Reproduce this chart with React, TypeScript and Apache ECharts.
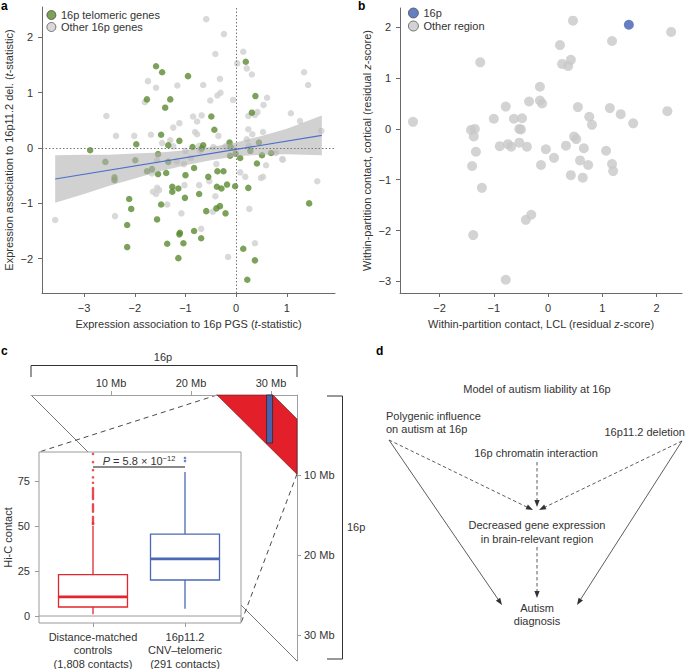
import React, { useEffect, useRef } from 'react';
import * as echarts from 'echarts';

const FONT = '"Liberation Sans", Arial, Helvetica, sans-serif';
const TXT = '#333333';
const AX = '#6a6a6a';
const FS = 11;

// ---------- Panel a ----------
const telomericGenes: number[][] = [
  [-2.88, -0.04], [-1.97, 0.07], [-1.76, 0.88], [-1.58, 1.48], [-1.46, 1.37], [-1.48, 0.24],
  [-1.40, 0.73], [-1.30, 0.88], [-1.34, 0.05], [-1.54, -0.11], [-1.12, 0.13], [0.19, 1.56],
  [-0.95, 1.30], [0.38, 0.94], [0.31, 0.64], [-0.49, 0.57], [-0.43, 0.33], [-0.86, 0.02],
  [-0.65, 0.05], [-0.68, -0.01], [-0.13, 0.10], [-0.11, 0.02], [0.45, 0.10], [0.28, -0.05],
  [-0.01, -0.10], [-0.12, -0.14], [0.08, -0.18], [0.51, -0.13], [0.69, -0.09], [-2.58, -0.25],
  [-2.40, -0.53], [-2.40, -0.58], [-1.99, -0.22], [-1.76, -0.42], [-1.66, -0.38], [-1.54, -0.47],
  [-1.38, -0.45], [-1.34, -0.25], [-1.26, -0.70], [-1.26, -0.79], [-1.14, -0.73], [-2.11, -0.92],
  [-2.07, -1.10], [-1.48, -1.02], [-1.56, -1.29], [-2.15, -1.39], [-2.15, -1.79], [-1.36, -1.73],
  [-1.12, -1.56], [-1.14, -1.99], [-1.00, -0.49], [-0.83, -0.36], [-0.55, -0.52], [-0.37, -0.42],
  [-0.25, -0.42], [-0.73, -0.83], [-1.01, -0.90], [-0.38, -0.70], [-0.29, -0.73], [-0.18, -0.66],
  [-0.02, -0.69], [0.24, -0.72], [0.41, -0.28], [1.44, -1.00], [-0.59, -1.14], [-0.39, -1.09],
  [-0.32, -1.05], [-0.21, -1.18], [-1.11, -1.53], [-1.04, -1.72], [-0.83, -1.50], [-0.69, -1.63],
  [0.14, -1.82], [0.37, -2.03], [0.22, -2.38],
];
const otherGenes: number[][] = [
  [-2.56, 0.58], [-2.37, 0.22], [-2.01, 0.22], [-1.80, 0.83], [-1.74, 1.21], [-1.68, 0.24],
  [-1.58, 1.09], [-1.16, 1.13], [-1.24, 0.37], [-1.12, 0.45], [-1.30, 0.14], [-1.46, 0.09],
  [-1.24, 0.03], [-0.59, 2.33], [-0.24, 2.06], [-0.41, 1.70], [0.14, 1.74], [0.02, 1.53],
  [0.21, 1.44], [0.31, 1.33], [1.34, 1.37], [1.42, 1.14], [-0.32, 1.25], [-0.65, 1.14],
  [-0.31, 1.00], [-0.37, 0.95], [-0.51, 0.86], [-0.06, 0.87], [0.61, 0.91], [0.54, 0.78],
  [0.42, 0.65], [0.24, 0.58], [0.37, 0.60], [1.08, 0.63], [1.26, 0.49], [-0.85, 0.57],
  [-0.68, 0.59], [-0.77, 0.48], [-0.81, 0.29], [-0.77, 0.25], [-0.35, 0.22], [0.24, 0.34],
  [0.53, 0.29], [0.32, 0.25], [1.68, 0.31], [-0.73, 0.04], [-0.21, 0.03], [-0.06, 0.00],
  [0.21, 0.16], [0.25, 0.04], [0.78, -0.09], [0.91, -0.20], [-1.00, -0.05], [-0.89, -0.18],
  [-0.71, -0.05], [-0.45, 0.02], [-1.66, -0.46], [-1.56, -0.22], [-1.17, -0.24], [-1.64, -0.79],
  [-1.56, -0.72], [-1.52, -0.76], [-1.58, -0.83], [-2.39, -1.23], [-1.36, -1.02], [-3.57, -1.30],
  [-1.03, -0.29], [-0.53, -0.60], [-0.39, -0.29], [-1.02, -0.67], [-0.73, -0.67], [-0.41, -0.87],
  [0.18, -0.52], [0.08, -0.44], [0.59, -0.31], [0.49, -0.54], [0.53, -0.52], [0.92, -0.21],
  [1.60, -0.60], [-0.46, -1.15], [-1.08, -1.18], [0.26, -1.10], [-0.69, -1.46], [-0.16, -1.97],
  [0.37, -1.72],
];
const fitLine: number[][] = [[-3.57, -0.56], [1.69, 0.23]];
const ciX = [-3.57, -3.0, -2.5, -2.0, -1.5, -1.0, -0.5, 0.0, 0.5, 1.0, 1.69];
const ciLow = [-0.99, -0.83, -0.68, -0.55, -0.42, -0.31, -0.22, -0.15, -0.12, -0.11, -0.13];
const ciHigh = [-0.13, -0.12, -0.12, -0.10, -0.08, -0.04, 0.02, 0.10, 0.22, 0.35, 0.59];
const aXTicks = [-3, -2, -1, 0, 1];
const aYTicks = [-2, -1, 0, 1, 2];

// ---------- Panel b ----------
const region16p: number[][] = [[1.49, 2.05]];
const otherRegions: number[][] = [
  [-2.49, 0.14], [-1.25, 1.31], [-1.42, -0.02], [-1.35, 0.00], [-1.37, -0.15], [-1.33, -0.45],
  [-1.00, 0.20], [-0.78, 0.44], [-0.63, 0.20], [-0.89, -0.34], [-0.74, -0.30], [-0.68, -0.35],
  [-0.53, -0.27], [-0.53, 0.00], [0.46, 2.13], [2.27, 1.91], [1.18, 1.73], [0.22, 1.65],
  [0.26, 1.28], [0.37, 1.24], [0.42, 1.36], [-0.15, 0.83], [-0.35, 0.54], [-0.15, 0.56],
  [-0.11, 0.50], [0.55, 0.43], [1.14, 0.41], [1.34, 0.29], [2.20, 0.35], [0.76, 0.24],
  [0.81, 0.08], [1.57, 0.11], [-0.48, 0.21], [-0.50, -0.01], [-0.39, -0.35], [-0.04, -0.40],
  [0.11, -0.57], [0.33, -0.33], [0.48, -0.15], [0.52, -0.20], [0.66, -0.38], [0.59, -0.62],
  [1.07, -0.43], [-1.40, -0.73], [-1.22, -1.16], [-0.13, -0.71], [0.74, -0.71], [0.42, -0.91],
  [0.64, -0.96], [1.18, -0.69], [1.20, -0.83], [-0.41, -1.79], [-0.31, -1.69], [-1.38, -2.09],
  [-0.78, -2.97],
];
const bXTicks = [-2, -1, 0, 1, 2];
const bYTicks = [-3, -2, -1, 0, 1, 2];

// ---------- Panel c ----------
const groups = ['Distance-matched\ncontrols\n(1,808 contacts)', '16p11.2\nCNV\u2013telomeric\n(291 contacts)'];
// [low whisker, Q1, median, Q3, high whisker]
const boxStats: number[][] = [[1, 5, 10.6, 23, 50], [4, 20, 31.7, 45.5, 80]];
const controlOutliers = [90, 85.5, 81, 77, 74, 71, 70, 69, 68, 67, 66, 65, 62, 61, 60, 59, 58, 55, 54, 53, 52, 51.5, 51];
const telomericOutliers = [86.1, 87.8];
const contactTicks = [0, 25, 50, 75];
const pBracketLevel = 82.8;
const mbTicks = [10, 20, 30];
const hicBand: number[][] = [[23.25, 0], [30.25, 0], [33.25, 3.0], [33.25, 9.9]];
const cnvBar: number[][] = [[29.45, 0, 30.2, 6.0]];

const boxColors = ['#e3262d', '#4a68b4'];

function axisBase(extra: any) {
  const { axisLine, ...rest } = extra;
  return {
    splitLine: { show: false },
    ...rest,
    axisLine: { show: true, onZero: false, lineStyle: { color: AX, width: 1 }, ...(axisLine || {}) },
  };
}

function valAxis(gridIndex: number, min: number, max: number, ticks: number[], extra: any = {}) {
  return axisBase({
    type: 'value',
    gridIndex,
    min,
    max,
    axisTick: { show: true, length: 4, lineStyle: { color: AX }, customValues: ticks },
    axisLabel: {
      customValues: ticks,
      color: TXT,
      fontSize: FS,
      fontFamily: FONT,
      margin: 9,
      formatter: (v: number) => String(v).replace('-', '\u2212'),
    },
    nameLocation: 'middle',
    nameTextStyle: {
      color: TXT,
      fontSize: FS,
      fontFamily: FONT,
      rich: { i: { fontStyle: 'italic', fontSize: FS, fontFamily: FONT, color: TXT } },
    },
    ...extra,
  });
}

function arrow(x1: number, y1: number, x2: number, y2: number, dashed: boolean) {
  const dx = x2 - x1;
  const dy = y2 - y1;
  const L = Math.hypot(dx, dy);
  const ux = dx / L;
  const uy = dy / L;
  const hl = 7;
  const hw = 2.6;
  const bx = x2 - ux * hl;
  const by = y2 - uy * hl;
  return [
    {
      type: 'line',
      shape: { x1, y1, x2: bx + ux * 1, y2: by + uy * 1 },
      style: { stroke: '#333', lineWidth: 0.8, lineDash: dashed ? [3.5, 2.5] : null },
    },
    {
      type: 'polygon',
      shape: { points: [[x2, y2], [bx - uy * hw, by + ux * hw], [bx + uy * hw, by - ux * hw]] },
      style: { fill: '#333' },
    },
  ];
}

function txt(x: number, y: number, text: string, align = 'center', extra: any = {}) {
  return {
    type: 'text',
    x,
    y,
    style: {
      text,
      fill: TXT,
      fontSize: FS,
      fontFamily: FONT,
      align,
      verticalAlign: 'middle',
      ...extra,
    },
  };
}

function letter(x: number, y: number, t: string) {
  return {
    type: 'text',
    x,
    y,
    style: { text: t, fill: '#000', fontSize: 12, fontWeight: 'bold', fontFamily: FONT, align: 'left', verticalAlign: 'top' },
  };
}

export default function App() {
  const ref = useRef<HTMLDivElement>(null);

  useEffect(() => {
    if (!ref.current) return;
    const chart = echarts.init(ref.current, null, { renderer: 'svg' });

    const graphics: any[] = [
      letter(1, 0, 'a'),
      letter(358, 0, 'b'),
      letter(1, 345, 'c'),
      letter(376, 345, 'd'),
      // panel c: top bracket
      {
        type: 'polyline',
        shape: { points: [[31, 377], [31, 365.5], [297, 365.5], [297, 377]] },
        style: { stroke: '#333', lineWidth: 1, fill: null },
      },
      txt(163, 357, '16p'),
      // right bracket
      {
        type: 'polyline',
        shape: { points: [[327, 396], [342.5, 396], [342.5, 659], [327, 659]] },
        style: { stroke: '#333', lineWidth: 1, fill: null },
      },
      txt(347, 527, '16p', 'left'),
      // diagonal of contact map (visible parts)
      { type: 'line', shape: { x1: 31, y1: 395, x2: 88, y2: 452 }, style: { stroke: '#555', lineWidth: 0.8 } },
      { type: 'line', shape: { x1: 241, y1: 605, x2: 297, y2: 661 }, style: { stroke: '#555', lineWidth: 0.8 } },
      // zoom dashed lines
      { type: 'line', shape: { x1: 217, y1: 395, x2: 39, y2: 452 }, style: { stroke: '#333', lineWidth: 0.9, lineDash: [5, 4] } },
      { type: 'line', shape: { x1: 297, y1: 474, x2: 241, y2: 623 }, style: { stroke: '#333', lineWidth: 0.9, lineDash: [5, 4] } },
      // inset frame
      { type: 'rect', shape: { x: 39, y: 452, width: 202, height: 171 }, style: { stroke: '#9a9a9a', lineWidth: 1, fill: null } },
      { type: 'line', shape: { x1: 39, y1: 616, x2: 241, y2: 616 }, style: { stroke: '#9a9a9a', lineWidth: 1 } },
      {
        type: 'text',
        x: 139,
        y: 461,
        style: {
          text: '{i|P} = 5.8 \u00d7 10{s|\u221212}',
          fill: TXT,
          fontSize: FS,
          fontFamily: FONT,
          align: 'center',
          verticalAlign: 'middle',
          rich: {
            i: { fontStyle: 'italic', fontSize: FS, fontFamily: FONT, fill: TXT, lineHeight: 14 },
            s: { fontSize: 7.5, fontFamily: FONT, fill: TXT, verticalAlign: 'top', lineHeight: 10 },
          },
        },
      },
      // panel d texts
      txt(537, 389, 'Model of autism liability at 16p'),
      txt(386, 416, 'Polygenic influence', 'left'),
      txt(386, 429, 'on autism at 16p', 'left'),
      txt(685, 432, '16p11.2 deletion', 'right'),
      txt(536, 453, '16p chromatin interaction'),
      txt(537, 525, 'Decreased gene expression'),
      txt(537, 539, 'in brain-relevant region'),
      txt(537, 608, 'Autism'),
      txt(537, 621, 'diagnosis'),
      ...arrow(389, 440, 502, 605, false),
      ...arrow(389, 440, 533, 510, true),
      ...arrow(682, 441, 577, 605, false),
      ...arrow(682, 441, 539, 510, true),
      ...arrow(537, 462, 537, 507, true),
      ...arrow(537, 547, 537, 598, true),
    ];

    const option: any = {
      animation: false,
      backgroundColor: '#ffffff',
      textStyle: { fontFamily: FONT, color: TXT },
      grid: [
        { left: 42, top: 7, width: 293, height: 286, outerBoundsMode: 'none' },
        { left: 400, top: 8, width: 282, height: 285, outerBoundsMode: 'none' },
        { left: 47, top: 452, width: 184, height: 171, outerBoundsMode: 'none' },
        { left: 31, top: 395, width: 266, height: 266, outerBoundsMode: 'none' },
      ],
      legend: [
        {
          data: ['16p telomeric genes', 'Other 16p genes'],
          orient: 'vertical',
          left: 46.5,
          top: 9,
          padding: 0,
          itemWidth: 9,
          itemHeight: 9,
          itemGap: 0,
          icon: 'circle',
          selectedMode: false,
          itemStyle: { borderColor: '#333', borderWidth: 0.8 },
          textStyle: { color: TXT, fontSize: FS, fontFamily: FONT, lineHeight: 12 },
        },
        {
          data: ['16p', 'Other region'],
          orient: 'vertical',
          left: 408,
          top: 7,
          padding: 0,
          itemWidth: 10,
          itemHeight: 10,
          itemGap: 1,
          icon: 'circle',
          selectedMode: false,
          itemStyle: { borderColor: '#333', borderWidth: 0.8 },
          textStyle: { color: TXT, fontSize: FS, fontFamily: FONT, lineHeight: 12 },
        },
      ],
      xAxis: [
        valAxis(0, -3.83, 1.95, aXTicks, {
          name: 'Expression association to 16p PGS ({i|t}-statistic)',
          nameGap: 25,
        }),
        valAxis(1, -2.73, 2.47, bXTicks, {
          name: 'Within-partition contact, LCL (residual {i|z}-score)',
          nameGap: 25,
        }),
        axisBase({
          type: 'category',
          gridIndex: 2,
          data: groups,
          boundaryGap: true,
          axisLine: { show: false },
          axisTick: { show: true, alignWithLabel: true, length: 4, lineStyle: { color: '#9a9a9a' } },
          axisLabel: { interval: 0, color: TXT, fontSize: FS, fontFamily: FONT, lineHeight: 13.5, margin: 7 },
        }),
        axisBase({
          type: 'value',
          gridIndex: 3,
          position: 'top',
          min: 0,
          max: 33.25,
          axisLine: { lineStyle: { color: '#a0a0a0', width: 1 } },
          axisTick: { show: true, length: 4, lineStyle: { color: '#a0a0a0' }, customValues: mbTicks },
          axisLabel: { customValues: mbTicks, color: TXT, fontSize: FS, fontFamily: FONT, margin: 7, formatter: (v: number) => v + ' Mb' },
        }),
      ],
      yAxis: [
        valAxis(0, -2.62, 2.55, aYTicks, {
          name: 'Expression association to 16p11.2 del. ({i|t}-statistic)',
          nameGap: 28,
        }),
        valAxis(1, -3.23, 2.38, bYTicks, {
          name: 'Within-partition contact, cortical (residual {i|z}-score)',
          nameGap: 28,
        }),
        valAxis(2, -3.9, 91.1, contactTicks, {
          offset: 8,
          axisLine: { show: false },
          axisTick: { show: true, length: 4, lineStyle: { color: '#9a9a9a' }, customValues: contactTicks },
          name: 'Hi-C contact',
          nameGap: 26,
        }),
        axisBase({
          type: 'value',
          gridIndex: 3,
          position: 'right',
          inverse: true,
          min: 0,
          max: 33.25,
          axisLine: { lineStyle: { color: '#a0a0a0', width: 1 } },
          axisTick: { show: true, length: 4, lineStyle: { color: '#a0a0a0' }, customValues: mbTicks },
          axisLabel: { customValues: mbTicks, color: TXT, fontSize: FS, fontFamily: FONT, margin: 7, formatter: (v: number) => v + ' Mb' },
        }),
      ],
      series: [
        // panel a
        {
          name: 'Other 16p genes',
          type: 'scatter',
          xAxisIndex: 0,
          yAxisIndex: 0,
          data: otherGenes,
          symbolSize: 6.5,
          itemStyle: { color: '#cfcfcf' },
          z: 2,
        },
        {
          name: '16p telomeric genes',
          type: 'scatter',
          xAxisIndex: 0,
          yAxisIndex: 0,
          data: telomericGenes,
          symbolSize: 6.5,
          itemStyle: { color: '#5b8a2f' },
          z: 3,
        },
        {
          name: 'ci',
          type: 'custom',
          xAxisIndex: 0,
          yAxisIndex: 0,
          data: ciX.map((x, i) => [x, ciLow[i], ciHigh[i]]),
          encode: { x: 0, y: [1, 2] },
          silent: true,
          z: 4,
          renderItem: (params: any, api: any) => {
            if (params.dataIndex !== 0) return null;
            const top = ciX.map((x, i) => api.coord([x, ciHigh[i]]));
            const bot = ciX.map((x, i) => api.coord([x, ciLow[i]])).reverse();
            return {
              type: 'polygon',
              shape: { points: top.concat(bot) },
              style: { fill: 'rgba(178,178,178,0.6)' },
            };
          },
        },
        {
          name: 'fit',
          type: 'line',
          xAxisIndex: 0,
          yAxisIndex: 0,
          data: fitLine,
          showSymbol: false,
          symbol: 'none',
          lineStyle: { color: '#4a6fc8', width: 1.1 },
          z: 5,
          silent: true,
          markLine: {
            silent: true,
            symbol: ['none', 'none'],
            label: { show: false },
            lineStyle: { type: [1.5, 2], color: '#777', width: 1 },
            data: [{ xAxis: 0 }, { yAxis: 0 }],
          },
        },
        // panel b
        {
          name: 'Other region',
          type: 'scatter',
          xAxisIndex: 1,
          yAxisIndex: 1,
          data: otherRegions,
          symbolSize: 10,
          itemStyle: { color: '#c8c8c8' },
        },
        {
          name: '16p',
          type: 'scatter',
          xAxisIndex: 1,
          yAxisIndex: 1,
          data: region16p,
          symbolSize: 10,
          itemStyle: { color: '#3f5fb0' },
          z: 3,
        },
        // panel c inset box plot
        {
          name: 'box',
          type: 'custom',
          xAxisIndex: 2,
          yAxisIndex: 2,
          data: boxStats.map((s, i) => [i, ...s]),
          encode: { x: 0, y: [1, 2, 3, 4, 5] },
          silent: true,
          z: 3,
          renderItem: (params: any, api: any) => {
            const i = api.value(0);
            const lo = api.coord([i, api.value(1)]);
            const q1 = api.coord([i, api.value(2)]);
            const md = api.coord([i, api.value(3)]);
            const q3 = api.coord([i, api.value(4)]);
            const hi = api.coord([i, api.value(5)]);
            const w = 69;
            const c = boxColors[params.dataIndex];
            const x = lo[0];
            const ls = { stroke: c, lineWidth: 1.3 };
            return {
              type: 'group',
              children: [
                { type: 'line', shape: { x1: x, y1: lo[1], x2: x, y2: q1[1] }, style: ls },
                { type: 'line', shape: { x1: x, y1: q3[1], x2: x, y2: hi[1] }, style: ls },
                { type: 'rect', shape: { x: x - w / 2, y: q3[1], width: w, height: q1[1] - q3[1] }, style: { stroke: c, lineWidth: 1.3, fill: '#fff' } },
                { type: 'line', shape: { x1: x - w / 2, y1: md[1], x2: x + w / 2, y2: md[1] }, style: { stroke: c, lineWidth: 2.8 } },
              ],
            };
          },
        },
        {
          name: 'controlOutliers',
          type: 'scatter',
          xAxisIndex: 2,
          yAxisIndex: 2,
          data: controlOutliers.map((v) => [0, v]),
          symbolSize: 2.6,
          itemStyle: { color: boxColors[0] },
          silent: true,
        },
        {
          name: 'telomericOutliers',
          type: 'scatter',
          xAxisIndex: 2,
          yAxisIndex: 2,
          data: telomericOutliers.map((v) => [1, v]),
          symbolSize: 2.6,
          itemStyle: { color: boxColors[1] },
          silent: true,
        },
        {
          name: 'pBracket',
          type: 'line',
          xAxisIndex: 2,
          yAxisIndex: 2,
          data: [[0, pBracketLevel], [1, pBracketLevel]],
          symbol: 'none',
          lineStyle: { color: '#8a8a8a', width: 2 },
          silent: true,
        },
        // panel c contact map
        {
          name: 'hicBand',
          type: 'custom',
          xAxisIndex: 3,
          yAxisIndex: 3,
          data: hicBand,
          encode: { x: 0, y: 1 },
          silent: true,
          z: 2,
          renderItem: (params: any, api: any) => {
            if (params.dataIndex !== 0) return null;
            const pts = hicBand.map((p) => api.coord(p));
            return {
              type: 'polygon',
              shape: { points: pts },
              style: { fill: '#e3202a', stroke: '#6a1414', lineWidth: 0.6 },
            };
          },
        },
        {
          name: 'cnvBar',
          type: 'custom',
          xAxisIndex: 3,
          yAxisIndex: 3,
          data: cnvBar,
          encode: { x: [0, 2], y: [1, 3] },
          silent: true,
          z: 3,
          renderItem: (params: any, api: any) => {
            const a = api.coord([api.value(0), api.value(1)]);
            const b = api.coord([api.value(2), api.value(3)]);
            return {
              type: 'rect',
              shape: { x: a[0], y: a[1], width: b[0] - a[0], height: b[1] - a[1] },
              style: { fill: '#4a62ae', stroke: '#222', lineWidth: 0.7 },
            };
          },
        },
      ],
      graphic: graphics,
    };

    chart.setOption(option);
    return () => {
      chart.dispose();
    };
  }, []);

  return (
    <div
      ref={ref}
      style={{ position: 'absolute', left: 0, top: 0, width: 685, height: 669, background: '#fff' }}
    />
  );
}
